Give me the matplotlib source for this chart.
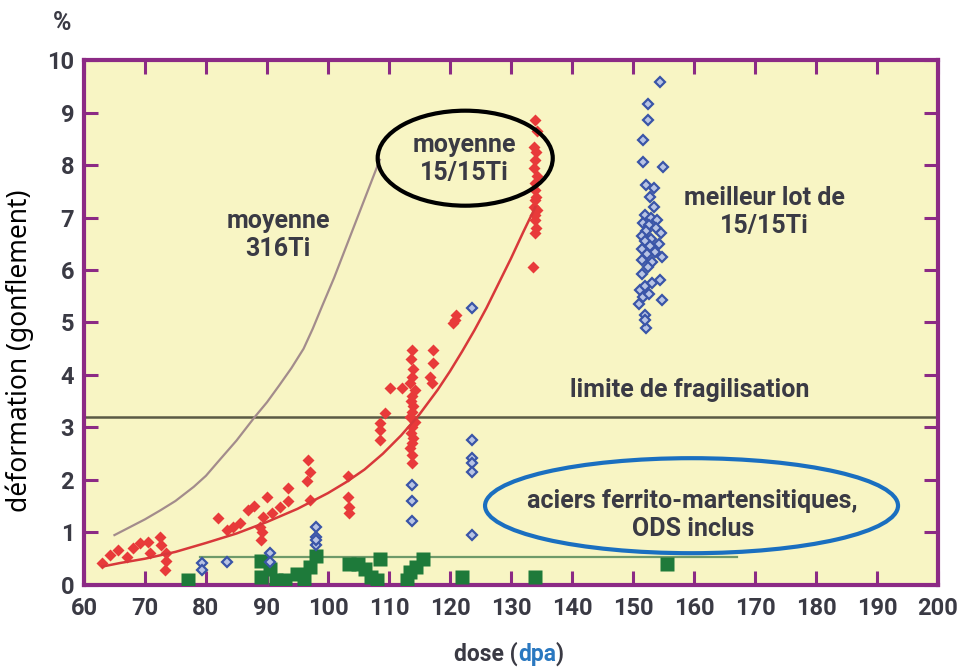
import matplotlib
matplotlib.use('Agg')
import matplotlib.pyplot as plt
from matplotlib.patches import Ellipse

# courbes moyennes
moy316_x = [65, 67.5, 70, 72.5, 75, 78, 80, 82, 85, 88, 90, 92, 94, 96, 97.5, 99, 101,
            102.5, 104, 105.5, 107, 108.5]
moy316_y = [0.95, 1.1, 1.25, 1.42, 1.6, 1.87, 2.08, 2.35, 2.75, 3.2, 3.48, 3.8, 4.13, 4.5,
            4.88, 5.3, 5.85, 6.3, 6.75, 7.2, 7.65, 8.1]

moy1515_x = [63, 66, 70, 75, 80, 85, 90, 95, 100, 103, 106, 109, 112, 115, 118, 120, 122,
             124, 126, 128, 130, 132, 134]
moy1515_y = [0.35, 0.42, 0.5, 0.63, 0.8, 0.98, 1.2, 1.45, 1.75, 1.96, 2.2, 2.5, 2.85, 3.25,
             3.72, 4.07, 4.45, 4.85, 5.28, 5.75, 6.22, 6.72, 7.2]

limite_y = 3.2
fm_line_x = [79, 167]
fm_line_y = [0.53, 0.53]

# 15/15Ti (points rouges)
red_x = [62.9, 64.3, 65.6, 67.0, 68.0, 69.2, 70.5, 70.8, 72.5, 72.7, 73.3, 73.5, 73.4,
         82.0, 83.4, 84.5, 85.6, 86.9, 87.8, 88.9, 89.1, 89.3, 90.0, 90.8, 92.1, 93.5, 93.5,
         96.8, 97.0, 96.5, 97.0, 89.2,
         103.3, 103.3, 103.4, 103.4,
         108.5, 108.5, 108.5, 109.3, 110.2, 112.2,
         113.8, 113.6, 114.0, 113.8, 113.5, 114.2, 113.8, 113.6, 114.0, 113.8, 113.5, 114.2,
         113.8, 113.6, 114.0, 113.8, 113.5, 113.8, 113.8,
         117.2, 117.2, 116.7, 117.0,
         120.8, 120.5, 121.0,
         134.0, 134.2, 133.8, 134.1, 134.0, 133.8, 134.2, 134.0, 133.9, 134.1, 134.0, 133.8,
         134.2, 134.0, 133.9, 134.1, 134.0, 133.6]
red_y = [0.41, 0.57, 0.67, 0.54, 0.70, 0.80, 0.82, 0.61, 0.92, 0.76, 0.29, 0.45, 0.60,
         1.28, 1.05, 1.10, 1.18, 1.43, 1.50, 1.10, 0.86, 1.29, 1.68, 1.38, 1.49, 1.85, 1.60,
         2.38, 2.15, 1.98, 1.62, 1.00,
         2.07, 1.68, 1.49, 1.37,
         3.08, 2.95, 2.76, 3.27, 3.75, 3.75,
         4.48, 4.30, 4.12, 3.97, 3.85, 3.72, 3.60, 3.50, 3.40, 3.30, 3.20, 3.10,
         3.00, 2.90, 2.80, 2.70, 2.60, 2.48, 2.32,
         4.48, 4.22, 3.96, 3.85,
         5.05, 4.99, 5.15,
         8.86, 8.65, 8.35, 8.25, 8.10, 7.95, 7.80, 7.65, 7.52, 7.40, 7.33, 7.20,
         7.14, 7.05, 6.95, 6.80, 6.70, 6.06]

# meilleur lot / divers (losanges bleus)
blue_x = [79.3, 79.3, 83.4, 90.5, 90.5, 98.1, 98.1, 98.1, 98.1,
          113.7, 113.7, 113.7, 123.6, 123.6, 123.6, 123.6, 123.6, 123.6,
          154.4, 152.5, 152.5, 151.7, 151.7, 154.9, 152.2, 153.4, 152.8, 153.4,
          152.0, 153.0, 154.0, 151.6, 152.6, 153.8, 152.2, 154.6, 151.4, 153.0,
          152.0, 154.2, 152.8, 151.5, 153.6, 152.3, 154.8, 151.4, 153.1, 152.5,
          154.4, 151.4, 151.2, 151.6, 154.7, 151.9, 152.2, 152.0, 152.6, 151.0,
          152.0, 153.2]
blue_y = [0.41, 0.28, 0.44, 0.60, 0.44, 1.11, 0.92, 0.76, 0.85,
          1.90, 1.59, 1.21, 2.76, 2.42, 2.32, 2.15, 0.95, 5.27,
          9.59, 9.17, 8.86, 8.48, 8.06, 7.97, 7.62, 7.56, 7.40, 7.20,
          7.05, 7.00, 6.95, 6.90, 6.85, 6.80, 6.75, 6.70, 6.65, 6.60,
          6.55, 6.50, 6.45, 6.40, 6.35, 6.30, 6.25, 6.19, 6.15, 6.05,
          5.81, 5.93, 5.62, 5.49, 5.43, 5.14, 4.90, 5.70, 5.55, 5.35,
          5.05, 5.75]

# aciers ferrito-martensitiques (carrés verts)
green_x = [77, 89, 89, 90.5, 91.5, 93, 95, 96, 97, 98, 103.5, 105, 106, 107, 108,
           108.5, 113, 113.5, 114.5, 115.5, 122, 134, 155.5]
green_y = [0.1, 0.15, 0.45, 0.3, 0.1, 0.1, 0.2, 0.1, 0.35, 0.55, 0.4, 0.4, 0.3, 0.15, 0.1,
           0.5, 0.1, 0.25, 0.35, 0.5, 0.15, 0.15, 0.4]

purple = '#8c2a85'
gris = '#3a3a44'
fond = '#f8f5c4'

fig = plt.figure(figsize=(9.65, 6.67), dpi=100)
ax = fig.add_axes([0.087, 0.123, 0.885, 0.787])
ax.set_facecolor(fond)

ax.axhline(limite_y, color='#5a5a44', lw=1.8, zorder=2)
ax.plot(fm_line_x, fm_line_y, color='#6f9a6a', lw=1.6, zorder=2)
ax.plot(moy316_x, moy316_y, color='#a38c8c', lw=1.6, zorder=2)

ax.plot(green_x, green_y, 's', color='#1e7a3a', ms=9.5, mec='none', zorder=3)
ax.plot(red_x, red_y, 'D', color='#e83a3a', ms=6.5, mec='none', zorder=4)
ax.plot(moy1515_x, moy1515_y, color='#d8383a', lw=1.8, zorder=5)
ax.plot(blue_x, blue_y, 'D', mfc='#b8c4e4', mec='#3a55a8', mew=1.6, ms=5, zorder=4)

ax.set_xlim(60, 200)
ax.set_ylim(0, 10)
ax.set_xticks(range(60, 201, 10))
ax.set_yticks(range(0, 11, 1))

for s in ax.spines.values():
    s.set_color(purple)
    s.set_linewidth(3)
ax.tick_params(direction='in', length=10, width=2.2, color=purple,
               top=True, right=True, labelsize=17, labelcolor=gris)
ax.tick_params(axis='x', pad=9)
ax.tick_params(axis='y', pad=7)
for lab in ax.get_xticklabels() + ax.get_yticklabels():
    lab.set_fontfamily('Roboto')
    lab.set_fontweight('bold')

txt = dict(fontfamily='Roboto', fontweight='bold', color=gris, fontsize=18,
           ha='center', va='center', zorder=6, linespacing=1.2)
ax.text(91.8, 6.67, 'moyenne\n316Ti', **txt)
ax.text(122.3, 8.12, 'moyenne\n15/15Ti', **txt)
ax.text(171.6, 7.1, 'meilleur lot de\n15/15Ti', **txt)
ax.text(159.3, 3.71, 'limite de fragilisation', **txt)
ax.text(159.8, 1.33, 'aciers ferrito-martensitiques,\nODS inclus', **txt)

ax.add_patch(Ellipse((122.5, 8.13), 28.7, 1.81, fill=False, ec='black', lw=3, zorder=7))
ax.add_patch(Ellipse((159.6, 1.51), 67.7, 1.81, fill=False, ec='#1a6fc0', lw=3, zorder=7))

ax.text(-0.026, 1.07, '%', transform=ax.transAxes, fontfamily='Roboto', fontweight='bold',
        color=gris, fontsize=18, ha='center', va='center')

ax.set_ylabel('déformation (gonflement)', fontfamily='Noto Sans', fontsize=19, color='black')
ax.yaxis.set_label_coords(-0.058, 0.446)

t1 = ax.text(0.508, -0.145, 'dose (', transform=ax.transAxes, fontfamily='Roboto',
             fontweight='bold', color=gris, fontsize=16.5, ha='right', va='baseline')
t2 = ax.annotate('dpa', xy=(1, 0), xycoords=t1, fontfamily='Roboto', fontweight='bold',
                 color='#2a78c0', fontsize=16.5, ha='left', va='bottom')
ax.annotate(')', xy=(1, 0), xycoords=t2, fontfamily='Roboto', fontweight='bold',
            color=gris, fontsize=16.5, ha='left', va='bottom')

fig.savefig('out.png', dpi=100, facecolor='white')
